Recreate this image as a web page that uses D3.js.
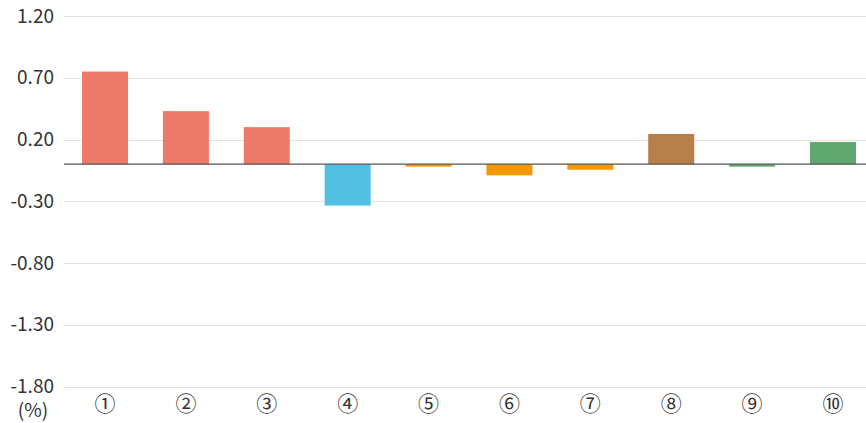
<!DOCTYPE html>
<html>
<head>
<meta charset="utf-8">
<script src="https://cdn.jsdelivr.net/npm/d3@7"></script>
<style>
  body { margin: 0; background: #fff; }
  text { font-family: "Noto Sans CJK JP", "Noto Sans", sans-serif; }
</style>
</head>
<body>
<div id="chart"></div>
<script>
// data
const categories = ["①", "②", "③", "④", "⑤", "⑥", "⑦", "⑧", "⑨", "⑩"];
const values = [0.75, 0.43, 0.30, -0.335, -0.02, -0.09, -0.045, 0.245, -0.02, 0.18];
const colors = ["#EE7A6A", "#EE7A6A", "#EE7A6A", "#52C0E2", "#F39800", "#F39800", "#F39800", "#B77F4A", "#5FA86F", "#5FA86F"];
const yTicks = [1.2, 0.7, 0.2, -0.3, -0.8, -1.3, -1.8];

const w = 866;
const h = 423;
const plotLeft = 64, plotRight = 866, plotTop = 16, plotBottom = 386.5;

let svg = d3.select("#chart").append("svg")
            .attr("width", w)
            .attr("height", h);

let xScale = d3.scaleBand()
               .domain(categories)
               .range([64.6, 873.4])
               .paddingInner(0.431)
               .paddingOuter(0.215);

let yScale = d3.scaleLinear()
               .domain([-1.8, 1.2])
               .range([plotBottom, plotTop]);

// gridlines
svg.append("g").selectAll("line").data(yTicks).enter().append("line")
   .attr("x1", plotLeft).attr("x2", plotRight)
   .attr("y1", d => Math.round(yScale(d)) + 0.5)
   .attr("y2", d => Math.round(yScale(d)) + 0.5)
   .attr("stroke", "#e3e3e3").attr("stroke-width", 1);

// y labels
svg.append("g").selectAll("text").data(yTicks).enter().append("text")
   .attr("x", 54).attr("y", d => yScale(d))
   .attr("dy", "0.35em")
   .attr("text-anchor", "end")
   .attr("font-size", "19px").attr("fill", "#333")
   .text(d => d3.format(".2f")(d).replace("−", "-"));

svg.append("text")
   .attr("x", 33).attr("y", 410).attr("dy", "0.35em")
   .attr("text-anchor", "middle")
   .attr("font-size", "19px").attr("fill", "#333")
   .text("(%)");

// bars
svg.append("g").selectAll("rect").data(values).enter().append("rect")
   .attr("x", (d, i) => xScale(categories[i]))
   .attr("width", xScale.bandwidth())
   .attr("y", d => yScale(Math.max(0, d)))
   .attr("height", d => Math.abs(yScale(d) - yScale(0)))
   .attr("fill", (d, i) => colors[i]);

// zero line
svg.append("line")
   .attr("x1", plotLeft).attr("x2", plotRight)
   .attr("y1", yScale(0)).attr("y2", yScale(0))
   .attr("stroke", "#555").attr("stroke-width", 1.3);

// x labels
svg.append("g").selectAll("text").data(categories).enter().append("text")
   .attr("x", d => xScale(d) + xScale.bandwidth() / 2)
   .attr("y", 404).attr("dy", "0.35em")
   .attr("text-anchor", "middle")
   .attr("font-size", "21px").attr("fill", "#333")
   .text(d => d);
</script>
</body>
</html>
